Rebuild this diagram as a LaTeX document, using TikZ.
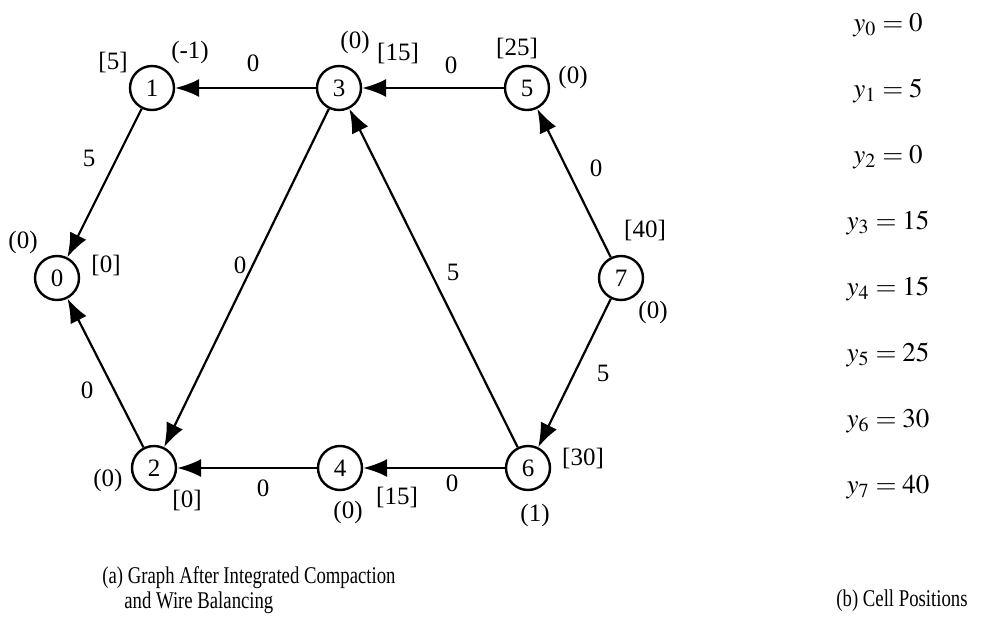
\documentclass[tikz,border=0pt]{standalone}
\usepackage{mathptmx}
\usepackage{fontspec}
\setmainfont{Liberation Serif}
\newfontfamily\capfont[FakeStretch=0.78]{Liberation Serif}
\usetikzlibrary{arrows.meta}

\newcommand{\lblfont}{\fontsize{12.5}{14}\selectfont}
\tikzset{
  cell/.style={circle, draw, line width=1.2pt, minimum size=22pt, inner sep=0pt, font=\lblfont},
  wire/.style={line width=1.1pt, -{Latex[length=12pt,width=9pt]}},
  tag/.style={inner sep=1pt, font=\lblfont},
  eqn/.style={inner sep=1pt, font=\fontsize{13.5}{16}\selectfont},
  capt/.style={inner sep=1pt, font=\capfont\fontsize{12}{14}\selectfont}
}

\begin{document}
\begin{tikzpicture}[x=0.5pt,y=-0.5pt]
\useasboundingbox (0,0) rectangle (997,632);
% cells
\node[cell] (c0) at (57,278) {0};
\node[cell] (c1) at (152,88) {1};
\node[cell] (c2) at (154,468) {2};
\node[cell] (c3) at (339,88) {3};
\node[cell] (c4) at (340,468) {4};
\node[cell] (c5) at (527,88) {5};
\node[cell] (c6) at (528,468) {6};
\node[cell] (c7) at (621,278) {7};
% wires
\draw[wire] (c3) -- (c1);
\draw[wire] (c5) -- (c3);
\draw[wire] (c1) -- (c0);
\draw[wire] (c2) -- (c0);
\draw[wire] (c3) -- (c2);
\draw[wire] (c6) -- (c3);
\draw[wire] (c7) -- (c5);
\draw[wire] (c7) -- (c6);
\draw[wire] (c4) -- (c2);
\draw[wire] (c6) -- (c4);
% wire weights
\node[tag] (w31) at (253,63) {0};
\node[tag] (w53) at (451,65) {0};
\node[tag] (w10) at (89,158) {5};
\node[tag] (w20) at (87,390) {0};
\node[tag] (w32) at (240,265) {0};
\node[tag] (w63) at (453,272) {5};
\node[tag] (w75) at (596,168) {0};
\node[tag] (w76) at (603,373) {5};
\node[tag] (w42) at (263,488) {0};
\node[tag] (w64) at (452,483) {0};
% cell tags
\node[tag] (p1) at (113,62) {[5]};
\node[tag] (d1) at (190,52) {(-1)};
\node[tag] (d3) at (355,42) {(0)};
\node[tag] (p3) at (398,53) {[15]};
\node[tag] (p5) at (517,48) {[25]};
\node[tag] (d5) at (573,77) {(0)};
\node[tag] (d0) at (23,242) {(0)};
\node[tag] (p0) at (106,265) {[0]};
\node[tag] (p7) at (645,230) {[40]};
\node[tag] (d7) at (653,312) {(0)};
\node[tag] (d2) at (108,480) {(0)};
\node[tag] (p2) at (187,500) {[0]};
\node[tag] (d4) at (348,512) {(0)};
\node[tag] (p4) at (397,497) {[15]};
\node[tag] (p6) at (583,458) {[30]};
\node[tag] (d6) at (535,515) {(1)};
% positions
\foreach \i/\v in {0/0,1/5,2/0,3/15,4/15,5/25,6/30,7/40}
  \node[eqn] (y\i) at (888,{25+66*\i}) {$y_{\i} = \v$};
% captions
\node[capt,anchor=west] (capa) at (100,578) {(a) Graph After Integrated Compaction};
\node[capt,anchor=west] (capb) at (122,603) {and Wire Balancing};
\node[capt] (capc) at (902,601) {(b) Cell Positions};
\end{tikzpicture}
\end{document}
